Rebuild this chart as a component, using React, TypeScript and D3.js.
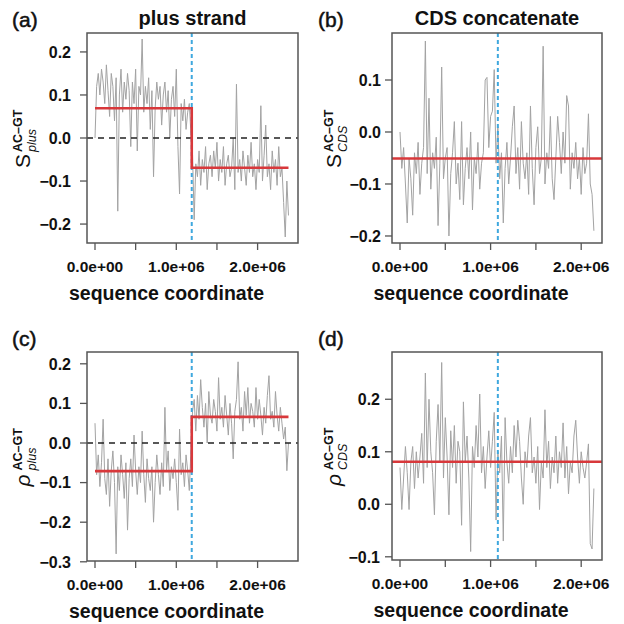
import React from 'react';
import * as d3 from 'd3';

const STEP = 20000;

const plusS = [
  0.00, 0.12, 0.15, 0.10, 0.16, 0.13, 0.08, 0.17, 0.11, 0.05,
  0.15, 0.12, 0.04, 0.14, -0.17, 0.10, 0.16, 0.06, 0.13, 0.09,
  0.15, 0.11, -0.02, 0.13, 0.08, 0.16, -0.03, 0.12, 0.10, 0.23,
  0.06, 0.12, 0.08, 0.14, 0.02, 0.11, -0.09, 0.07, 0.13, 0.09,
  0.12, 0.03, 0.10, 0.13, 0.06, 0.11, 0.00, 0.09, 0.12, 0.05,
  0.16, -0.02, -0.13, 0.08, 0.04, 0.09, 0.02, 0.06, 0.08, 0.01,
  -0.04, -0.19, -0.06, -0.09, -0.03, -0.11, -0.05, -0.08, -0.02, -0.12,
  -0.06, -0.04, -0.09, -0.03, -0.07, -0.01, -0.10, -0.05, -0.08, -0.02,
  -0.11, -0.06, -0.04, -0.09, -0.07, 0.00, -0.12, 0.125, -0.08, -0.05,
  -0.10, -0.03, -0.07, -0.11, -0.04, -0.08, -0.01, -0.09, -0.06, -0.12,
  -0.05, -0.08, 0.075, -0.10, -0.04, 0.03, -0.09, -0.06, -0.12, -0.03,
  -0.08, -0.05, -0.11, -0.02, -0.09, -0.07, -0.15, -0.23, -0.10, -0.18,
];

const plusP = [
  0.05, -0.08, -0.03, -0.11, -0.05, 0.06, -0.09, -0.13, -0.04, -0.16,
  -0.07, -0.02, -0.10, -0.28, -0.06, -0.12, -0.03, -0.08, -0.14, -0.05,
  -0.22, -0.09, -0.04, -0.11, 0.02, -0.07, -0.13, -0.06, -0.10, 0.03,
  -0.08, -0.15, -0.04, -0.09, -0.12, -0.06, -0.20, -0.10, -0.03, -0.08,
  -0.13, -0.05, -0.11, 0.09, -0.07, -0.02, -0.12, -0.06, -0.09, -0.04,
  -0.10, -0.17, 0.035, -0.08, -0.05, -0.11, -0.03, -0.07, -0.12, -0.02,
  0.08, 0.11, 0.03, 0.12, 0.06, 0.16, 0.09, 0.04, 0.10, 0.00,
  0.13, 0.07, 0.05, 0.11, 0.08, 0.03, 0.165, 0.06, 0.09, 0.04,
  0.12, 0.07, 0.02, 0.10, 0.05, -0.04, 0.08, 0.11, 0.205, 0.06,
  0.09, 0.03, 0.13, 0.07, 0.14, 0.05, 0.10, 0.08, 0.04, 0.14,
  0.06, 0.11, 0.07, 0.02, 0.09, 0.05, 0.12, 0.17, 0.06, 0.08,
  0.04, 0.13, 0.07, 0.03, 0.09, 0.05, 0.01, 0.04, -0.07, 0.00,
];

const cdsS = [
  0.00, -0.07, -0.03, -0.10, -0.175, -0.05, -0.09, -0.16, -0.04, -0.08,
  -0.02, -0.12, -0.06, -0.03, 0.175, -0.08, 0.065, -0.11, -0.04, -0.07,
  -0.01, -0.18, -0.06, 0.125, -0.09, -0.05, -0.03, -0.20, -0.08, -0.04,
  0.02, -0.10, -0.06, -0.13, 0.02, -0.14, -0.07, -0.03, -0.09, 0.00,
  -0.15, -0.05, -0.08, -0.02, -0.11, -0.06, -0.04, 0.10, 0.105, -0.03,
  0.03, 0.04, 0.12, -0.06, 0.01, -0.09, -0.04, -0.175, -0.07, -0.02,
  -0.10, -0.05, 0.01, 0.05, -0.08, -0.03, -0.11, 0.02, -0.06, -0.09,
  -0.04, -0.12, 0.05, -0.07, -0.14, -0.03, 0.01, -0.08, -0.05, 0.165,
  -0.10, -0.04, -0.07, 0.03, -0.09, -0.13, -0.05, 0.03, -0.02, -0.08,
  0.00, -0.06, 0.07, 0.05, -0.11, -0.04, -0.07, -0.02, -0.09, -0.05,
  -0.12, -0.03, -0.08, -0.06, 0.035, -0.10, -0.12, -0.19,
];

const cdsP = [
  0.07, -0.01, 0.05, 0.11, 0.06, -0.01, 0.08, 0.11, 0.03, 0.10,
  0.05, 0.09, 0.135, 0.04, 0.25, 0.07, 0.20, 0.10, 0.06, -0.02,
  0.12, 0.19, 0.08, 0.27, 0.05, 0.165, 0.09, -0.02, 0.14, 0.07,
  0.15, 0.04, 0.12, 0.10, -0.04, 0.195, 0.08, 0.13, 0.05, -0.09,
  0.11, 0.07, 0.15, 0.09, 0.21, 0.06, 0.11, 0.03, 0.09, 0.14,
  0.07, 0.12, 0.175, -0.03, 0.10, 0.06, 0.13, -0.07, 0.165, 0.08,
  0.04, 0.11, 0.06, 0.15, 0.09, 0.16, 0.12, 0.05, 0.00, 0.10,
  0.07, 0.13, 0.165, 0.06, 0.09, 0.04, 0.11, -0.01, 0.08, 0.05,
  0.18, 0.07, 0.12, 0.03, 0.09, 0.06, 0.13, 0.04, 0.10, 0.07,
  0.155, 0.05, 0.11, 0.02, 0.08, 0.06, 0.13, 0.16, 0.09, 0.04,
  0.10, 0.07, 0.05, 0.08, 0.115, -0.075, -0.085, 0.03,
];

const plusBreak = 1.19e6;
const cdsBreak = 1.08e6;
const plusSMeans = [0.069, -0.069];
const plusPMeans = [-0.071, 0.066];
const cdsSMeans = [-0.051];
const cdsPMeans = [0.081];

const xTicks = [0, 5e5, 1e6, 1.5e6, 2e6];
const xLabelTicks = [0, 1e6, 2e6];
const yTicksA = [-0.2, -0.1, 0, 0.1, 0.2];
const yTicksB = [-0.2, -0.1, 0, 0.1];
const yTicksC = [-0.3, -0.2, -0.1, 0, 0.1, 0.2];
const yTicksD = [-0.1, 0, 0.1, 0.2];

const FONT = '"Liberation Sans", Arial, Helvetica, sans-serif';
const GREY = '#a3a3a3';
const RED = '#d8383b';
const BLUE = '#3fa8de';
const FRAME = '#555';

const fmtX = (v: number) => {
  if (v === 0) return '0.0e+00';
  const e = Math.floor(Math.log10(v));
  const m = v / Math.pow(10, e);
  return `${m.toFixed(1)}e+${String(e).padStart(2, '0')}`;
};
const fmtY = d3.format('.1f');

type PanelProps = {
  box: { l: number; r: number; t: number; b: number };
  xDom: [number, number];
  yDom: [number, number];
  yTicks: number[];
  values: number[];
  brk: number;
  means: number[];
  letter: string;
  title?: string;
  sym: string;
  symItalic: boolean;
  sub: string;
  zero: boolean;
  labelGap: number;
  ylabX: number;
  letterX: number;
};

function Panel(p: PanelProps) {
  const { box } = p;
  const xs = d3.scaleLinear().domain(p.xDom).range([box.l, box.r]);
  const ys = d3.scaleLinear().domain(p.yDom).range([box.b, box.t]);
  const line = d3
    .line<number>()
    .x((_, i) => xs(i * STEP))
    .y((d) => ys(d));
  const xEnd = (p.values.length - 1) * STEP;
  let redPts: [number, number][];
  if (p.means.length === 2) {
    redPts = [
      [0, p.means[0]],
      [p.brk, p.means[0]],
      [p.brk, p.means[1]],
      [xEnd, p.means[1]],
    ];
  } else {
    redPts = [
      [p.xDom[0], p.means[0]],
      [p.xDom[1], p.means[0]],
    ];
  }
  const redLine = d3
    .line<[number, number]>()
    .x((d) => xs(d[0]))
    .y((d) => ys(d[1]));
  const cx = (box.l + box.r) / 2;
  const cy = (box.t + box.b) / 2;
  const tickY = box.b + 29;
  return (
    <g fontFamily={FONT}>
      <defs>
        <clipPath id={`clip-${p.letter}`}>
          <rect x={box.l} y={box.t} width={box.r - box.l} height={box.b - box.t} />
        </clipPath>
      </defs>
      <g clipPath={`url(#clip-${p.letter})`}>
        <path d={line(p.values) || ''} fill="none" stroke={GREY} strokeWidth={1} />
        {p.zero && (
          <line
            x1={box.l}
            x2={box.r}
            y1={ys(0)}
            y2={ys(0)}
            stroke="#222"
            strokeWidth={1.4}
            strokeDasharray="6,5"
          />
        )}
        <line
          x1={xs(p.brk)}
          x2={xs(p.brk)}
          y1={box.t}
          y2={box.b}
          stroke={BLUE}
          strokeWidth={2}
          strokeDasharray="4,3"
        />
        <path d={redLine(redPts) || ''} fill="none" stroke={RED} strokeWidth={2.6} />
      </g>
      <rect
        x={box.l}
        y={box.t}
        width={box.r - box.l}
        height={box.b - box.t}
        fill="none"
        stroke={FRAME}
        strokeWidth={1.5}
      />
      {p.yTicks.map((t) => (
        <g key={`y${t}`}>
          <line x1={box.l - 7} x2={box.l} y1={ys(t)} y2={ys(t)} stroke={FRAME} strokeWidth={1.3} />
          <text
            x={box.l - p.labelGap}
            y={ys(t)}
            dy="0.36em"
            textAnchor="end"
            fontSize={16}
            fontWeight="bold"
            fill="#111"
          >
            {fmtY(t)}
          </text>
        </g>
      ))}
      {xTicks.map((t) => (
        <line
          key={`x${t}`}
          x1={xs(t)}
          x2={xs(t)}
          y1={box.b}
          y2={box.b + 7}
          stroke={FRAME}
          strokeWidth={1.3}
        />
      ))}
      {xLabelTicks.map((t) => (
        <text
          key={`xl${t}`}
          x={xs(t)}
          y={tickY}
          textAnchor="middle"
          fontSize={15.5}
          fontWeight="bold"
          fill="#111"
        >
          {fmtX(t)}
        </text>
      ))}
      <text x={cx - 26} y={box.b + 57} textAnchor="middle" fontSize={19.5} fontWeight="bold" fill="#111">
        sequence coordinate
      </text>
      {p.title && (
        <text x={cx} y={box.t - 8} textAnchor="middle" fontSize={20} fontWeight="bold" fill="#111">
          {p.title}
        </text>
      )}
      <text x={p.letterX} y={box.t - 6} fontSize={21} fill="#111" stroke="#111" strokeWidth={0.5}>
        {p.letter}
      </text>
      <g transform={`translate(${p.ylabX},${cy}) rotate(-90)`} fill="#111">
        <text x={-30} y={0} fontSize={21} fontStyle={p.symItalic ? 'italic' : 'normal'}>
          {p.sym}
        </text>
        <text x={-14} y={-8.5} fontSize={12.5} fontWeight="bold">
          AC–GT
        </text>
        <text x={-14} y={5.5} fontSize={12.5} fontStyle="italic">
          {p.sub}
        </text>
      </g>
    </g>
  );
}

export default function App() {
  return (
    <svg
      width={624}
      height={624}
      style={{ position: 'absolute', left: 0, top: 0, background: '#fff' }}
    >
      <rect x={0} y={0} width={624} height={624} fill="#fff" />
      <Panel
        box={{ l: 87, r: 298, t: 33, b: 243 }}
        xDom={[-0.0984e6, 2.497e6]}
        yDom={[-0.244, 0.244]}
        yTicks={yTicksA}
        values={plusS}
        brk={plusBreak}
        means={plusSMeans}
        letter="(a)"
        title="plus strand"
        sym="S"
        symItalic={false}
        sub="plus"
        zero={true}
        labelGap={16}
        ylabX={30}
        letterX={12}
      />
      <Panel
        box={{ l: 392, r: 602, t: 33, b: 243 }}
        xDom={[-0.0883e6, 2.2296e6]}
        yDom={[-0.2135, 0.1904]}
        yTicks={yTicksB}
        values={cdsS}
        brk={cdsBreak}
        means={cdsSMeans}
        letter="(b)"
        title="CDS concatenate"
        sym="S"
        symItalic={false}
        sub="CDS"
        zero={false}
        labelGap={11}
        ylabX={341}
        letterX={318}
      />
      <Panel
        box={{ l: 87, r: 298, t: 352, b: 561 }}
        xDom={[-0.0984e6, 2.497e6]}
        yDom={[-0.298, 0.2298]}
        yTicks={yTicksC}
        values={plusP}
        brk={plusBreak}
        means={plusPMeans}
        letter="(c)"
        sym="ρ"
        symItalic={true}
        sub="plus"
        zero={true}
        labelGap={16}
        ylabX={30}
        letterX={12}
      />
      <Panel
        box={{ l: 392, r: 602, t: 352, b: 560 }}
        xDom={[-0.0883e6, 2.2296e6]}
        yDom={[-0.1061, 0.29]}
        yTicks={yTicksD}
        values={cdsP}
        brk={cdsBreak}
        means={cdsPMeans}
        letter="(d)"
        sym="ρ"
        symItalic={true}
        sub="CDS"
        zero={false}
        labelGap={12}
        ylabX={341}
        letterX={318}
      />
    </svg>
  );
}
